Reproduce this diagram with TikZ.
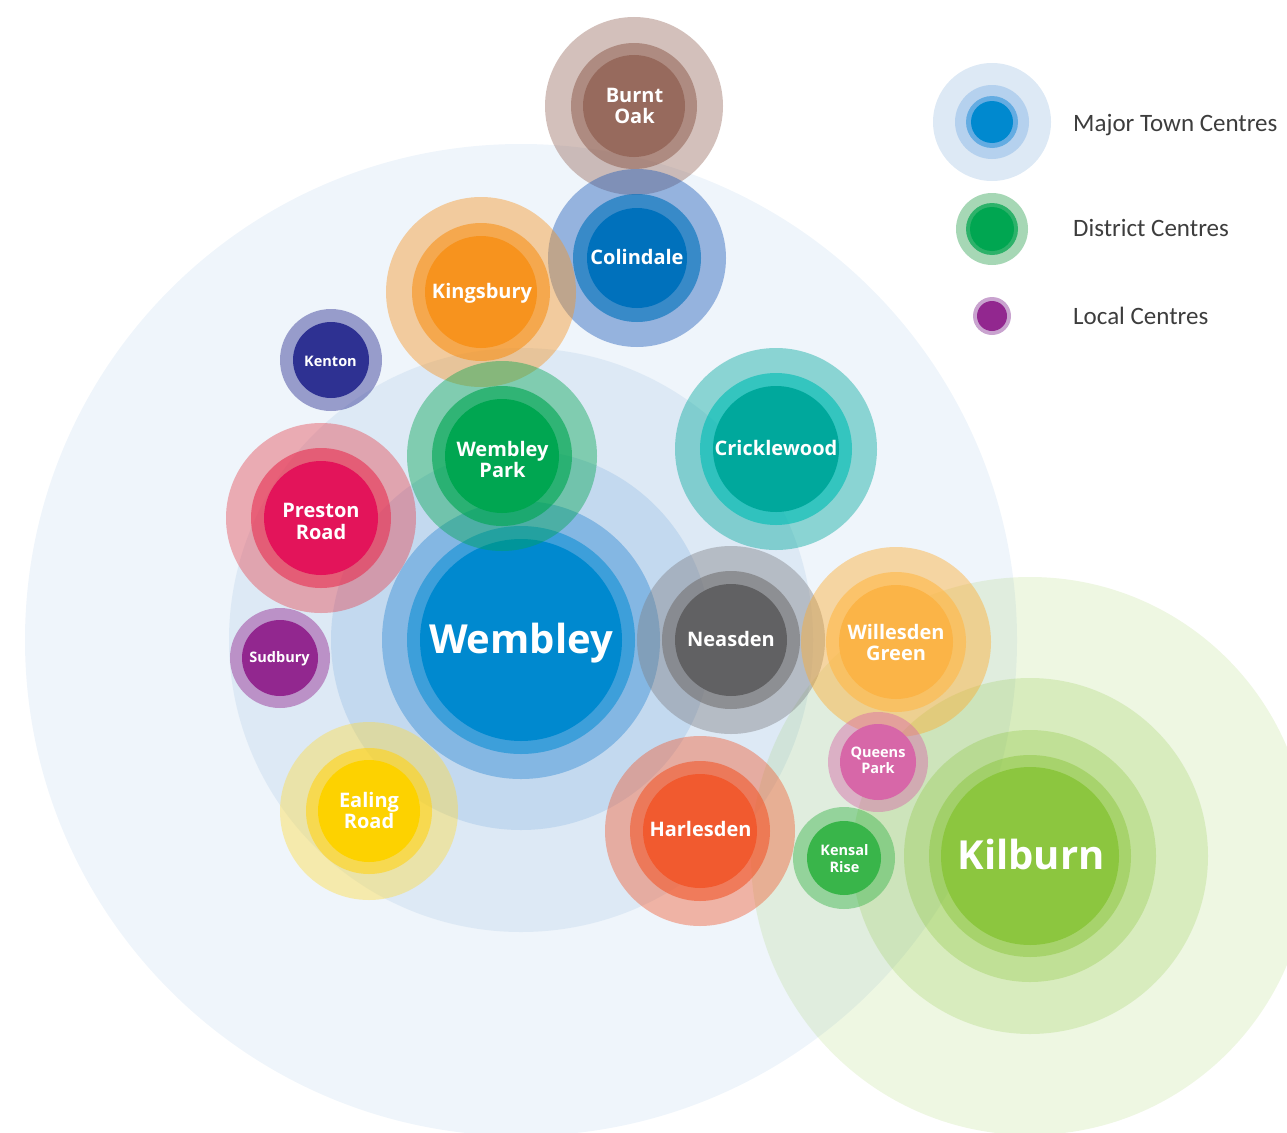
\documentclass[tikz,border=0pt]{standalone}
\usepackage{fontspec}
\setmainfont{Open Sans}
\newfontfamily\legendfont{Carlito}
\definecolor{wemA}{HTML}{EFF5FB}
\definecolor{wemB}{HTML}{DDE9F5}
\definecolor{wemC}{HTML}{C3D9EF}
\definecolor{wemD}{HTML}{84B7E3}
\definecolor{wemE}{HTML}{3D9FDA}
\definecolor{wemF}{HTML}{0089CF}
\definecolor{kil}{HTML}{8CC63F}
\definecolor{burnt}{HTML}{976A5D}
\definecolor{colin}{HTML}{0071BC}
\definecolor{colinout}{HTML}{1958B6}
\definecolor{kings}{HTML}{F7931E}
\definecolor{kent}{HTML}{2E3192}
\definecolor{wpark}{HTML}{00A651}
\definecolor{prest}{HTML}{E3145A}
\definecolor{prestout}{HTML}{E54550}
\definecolor{prestmid}{HTML}{E73254}
\definecolor{crick}{HTML}{00A89C}
\definecolor{crickmid}{HTML}{00BCB4}
\definecolor{sudb}{HTML}{92278F}
\definecolor{neas}{HTML}{616163}
\definecolor{neasout}{HTML}{7E7E83}
\definecolor{neasmid}{HTML}{767475}
\definecolor{will}{HTML}{FBB447}
\definecolor{willout}{HTML}{FFA927}
\definecolor{willmid}{HTML}{FFB949}
\definecolor{queen}{HTML}{D767A8}
\definecolor{harl}{HTML}{F15A2F}
\definecolor{kens}{HTML}{39B54A}
\definecolor{ealing}{HTML}{FDD200}
\definecolor{ealingout}{HTML}{FEDB40}
\definecolor{ealingmid}{HTML}{FFD31A}
\definecolor{legmajA}{HTML}{DDE9F5}
\definecolor{legmajB}{HTML}{B5D1EE}
\definecolor{legmajC}{HTML}{64ACE2}
\definecolor{legdisA}{HTML}{A6D7B5}
\definecolor{legdisB}{HTML}{2DB26A}
\definecolor{leglocA}{HTML}{C9A3CF}
\definecolor{legendgray}{HTML}{3D3D3D}
% three-ring centre: x, y, r outer, r middle, r inner, outer colour, middle colour, inner colour
\newcommand\threerings[8]{%
  \fill[fill=#6, fill opacity=0.42] (#1,#2) circle[radius=#3pt];
  \fill[fill=#7, fill opacity=0.62] (#1,#2) circle[radius=#4pt];
  \fill[fill=#8] (#1,#2) circle[radius=#5pt];
}
% two-ring centre: x, y, r outer, r inner, colour
\newcommand\tworings[5]{%
  \fill[fill=#5, fill opacity=0.45] (#1,#2) circle[radius=#3pt];
  \fill[fill=#5] (#1,#2) circle[radius=#4pt];
}
\begin{document}
\begin{tikzpicture}[x=1pt,y=-1pt,
  lab/.style={text=white,font=\bfseries\fontsize{20}{21.5}\selectfont,align=center,inner sep=0pt},
  onel/.style={text height=14.3pt,text depth=0pt},
  smalllab/.style={text=white,font=\bfseries\fontsize{14.5}{16.5}\selectfont,align=center,inner sep=0pt},
  biglab/.style={text=white,font=\bfseries\fontsize{40}{44}\selectfont,inner sep=0pt,text height=28.5pt,text depth=0pt},
  legtext/.style={text=legendgray,font=\legendfont\fontsize{25}{28}\selectfont,anchor=west,inner sep=0pt,text height=16.1pt,text depth=0pt}]
\useasboundingbox (0,0) rectangle (1287,1132);
\clip (0,0) rectangle (1287,1132);

% Wembley rings (back)
\fill[wemA] (521,640) circle[radius=496pt];
\fill[wemB] (521,640) circle[radius=292pt];
\fill[wemC] (521,640) circle[radius=190pt];
\fill[wemD] (521,640) circle[radius=139pt];
\fill[wemE] (521,640) circle[radius=114pt];
\fill[wemF] (521,640) circle[radius=101pt];

% Kilburn rings
\fill[kil,fill opacity=0.15] (1030,856) circle[radius=279pt];
\fill[kil,fill opacity=0.22] (1030,856) circle[radius=178pt];
\fill[kil,fill opacity=0.32] (1030,856) circle[radius=126pt];
\fill[kil,fill opacity=0.48] (1030,856) circle[radius=101pt];
\fill[kil] (1030,856) circle[radius=89pt];

% district and local centres
\threerings{634}{106}{89}{63}{51}{burnt}{burnt}{burnt}
\threerings{637}{258}{89}{64}{50}{colinout}{colin}{colin}
\threerings{481}{292}{95}{69}{56}{kings}{kings}{kings}
\tworings{331}{360}{51}{38}{kent}
\threerings{502}{456}{95}{70}{57}{wpark}{wpark}{wpark}
\threerings{321}{518}{95}{70}{57}{prestout}{prestmid}{prest}
\threerings{776}{449}{101}{76}{63}{crick}{crickmid}{crick}
\tworings{280}{658}{50}{38}{sudb}
\threerings{731}{640}{94}{69}{56}{neasout}{neasmid}{neas}
\threerings{896}{642}{95}{70}{57}{willout}{willmid}{will}
\tworings{878}{762}{50}{38}{queen}
\threerings{700}{831}{95}{70}{57}{harl}{harl}{harl}
\tworings{844}{858}{51}{37}{kens}
\threerings{369}{811}{89}{63}{51}{ealingout}{ealingmid}{ealing}

% labels
\node[biglab] (wembley) at (521,639) {Wembley};
\node[biglab] (kilburn) at (1031,855) {Kilburn};
\node[lab] (burntoak) at (634.5,106) {Burnt\\Oak};
\node[lab,onel] (colindale) at (637,257) {Colindale};
\node[lab,onel] (kingsbury) at (482,291.5) {Kingsbury};
\node[smalllab,onel,text height=10.4pt] (kenton) at (330.5,361.5) {Kenton};
\node[lab] (wembleypark) at (502.5,459.5) {Wembley\\Park};
\node[lab] (prestonroad) at (321,521.5) {Preston\\Road};
\node[lab,onel] (cricklewood) at (776,448) {Cricklewood};
\node[smalllab,onel,text height=10.4pt] (sudbury) at (279.5,657.5) {Sudbury};
\node[lab,onel] (neasden) at (731,639.5) {Neasden};
\node[lab] (willesden) at (896,642.5) {Willesden\\Green};
\node[smalllab] (queenspark) at (878,760.5) {Queens\\Park};
\node[lab,onel] (harlesden) at (700.5,829.5) {Harlesden};
\node[smalllab] (kensalrise) at (844.5,858.5) {Kensal\\Rise};
\node[lab] (ealingroad) at (369,810.5) {Ealing\\Road};

% legend
\fill[legmajA] (992,122) circle[radius=59pt];
\fill[legmajB] (992,122) circle[radius=37pt];
\fill[legmajC] (992,122) circle[radius=26pt];
\fill[wemF] (992,122) circle[radius=21pt];
\fill[legdisA] (992,229) circle[radius=36pt];
\fill[legdisB] (992,229) circle[radius=26pt];
\fill[wpark] (992,229) circle[radius=22pt];
\fill[leglocA] (992,316) circle[radius=19pt];
\fill[sudb] (992,316) circle[radius=15pt];
\node[legtext] (legmajor) at (1073,123) {Major Town Centres};
\node[legtext] (legdistrict) at (1073,228) {District Centres};
\node[legtext] (leglocal) at (1073,316) {Local Centres};
\end{tikzpicture}
\end{document}
